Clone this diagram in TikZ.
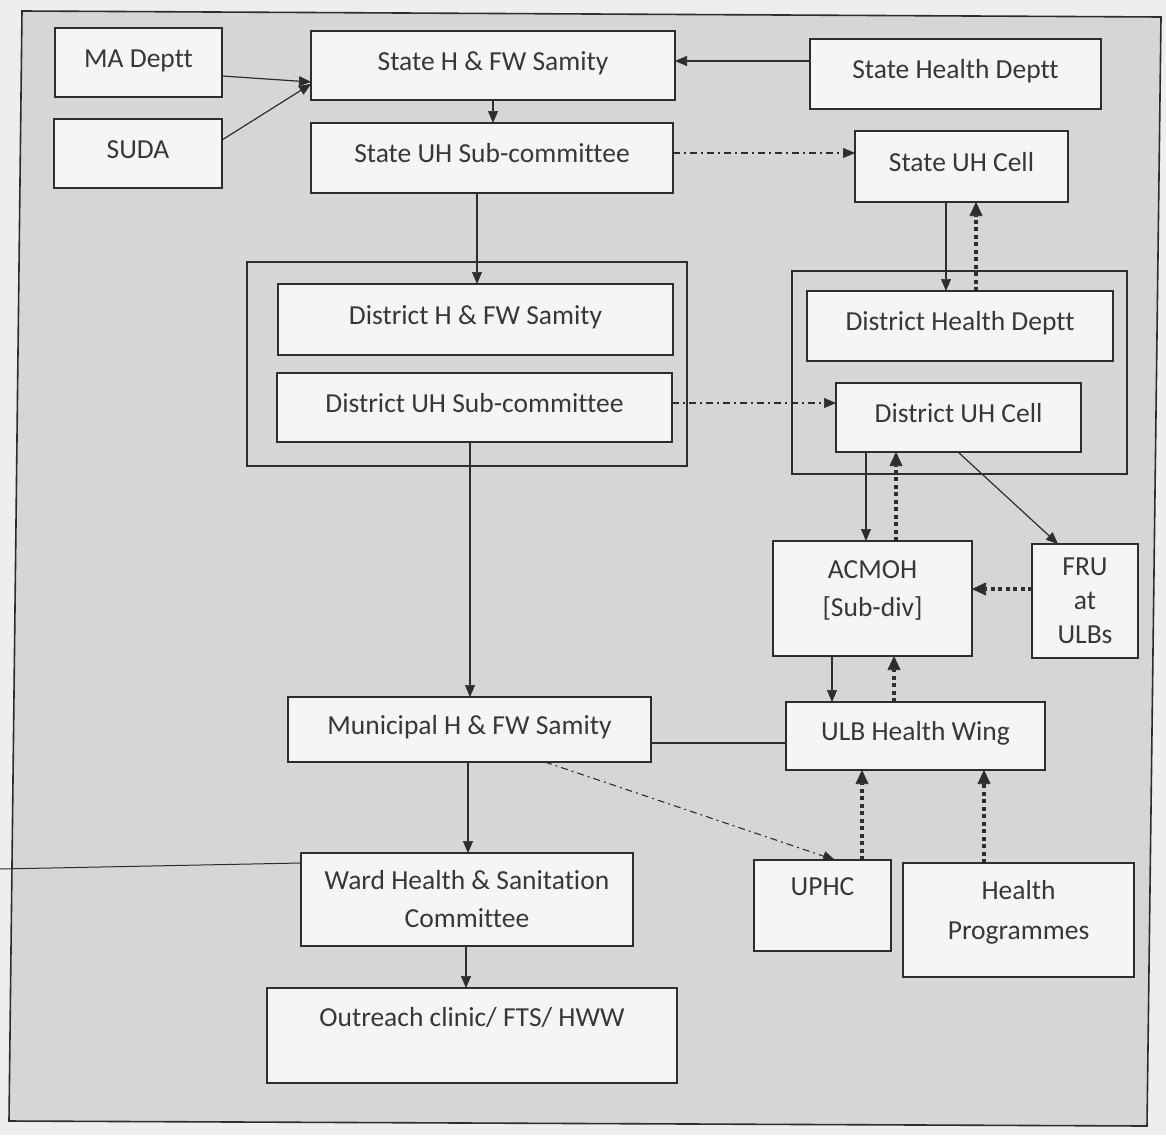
\documentclass[tikz,border=0pt]{standalone}
\usepackage{fontspec}
\setmainfont{Carlito}[Ligatures={NoCommon}]
\usetikzlibrary{arrows.meta,calc}
\definecolor{pagebg}{RGB}{238,238,238}
\definecolor{framebg}{RGB}{214,214,214}
\definecolor{boxbg}{RGB}{245,245,245}
\definecolor{ln}{RGB}{45,45,45}
\definecolor{tx}{RGB}{55,55,55}
\tikzset{
  bx/.style={draw=ln, fill=boxbg, line width=1.4pt, inner sep=0pt, outer sep=0pt, text=tx, align=center, font=\fontsize{27.5pt}{38pt}\selectfont},
  one/.style={text height=18pt, text depth=8.5pt},
  grp/.style={draw=ln, line width=1.4pt, inner sep=0pt, outer sep=0pt},
  ar/.style={draw=ln, line width=1.2pt, -{Triangle[length=12pt,width=10pt,line width=0.6pt]}},
  dd/.style={draw=ln, line width=1.1pt, dash pattern=on 7pt off 4pt on 2pt off 4pt, -{Triangle[length=12pt,width=10pt,line width=0.6pt]}},
  dt/.style={draw=ln, line width=4.5pt, dash pattern=on 4pt off 3.5pt, -{Triangle[length=14pt,width=13pt,line width=0.6pt]}},
  pl/.style={draw=ln, line width=1.2pt},
}
\begin{document}
\begin{tikzpicture}[x=1pt,y=-1pt]
\fill[pagebg] (0,0) rectangle (1166,1135);
\useasboundingbox (0,0) rectangle (1166,1135);
\filldraw[fill=framebg, draw=ln, line width=1.6pt] (22,11) -- (1161,17) -- (1147,1126) -- (9,1121) -- cycle;

% group frames
\node[grp, minimum width=440pt, minimum height=204pt] (grpL) at (467,364) {};
\node[grp, minimum width=335pt, minimum height=203pt] (grpR) at (959.5,372.5) {};

% boxes
\node[bx, one, minimum width=167pt, minimum height=69pt] (ma) at (138.5,62.5) {MA Deptt};
\node[bx, one, minimum width=168pt, minimum height=69pt] (suda) at (138,153.5) {SUDA};
\node[bx, one, minimum width=364pt, minimum height=69pt] (shfw) at (493,65.5) {State H \& FW Samity};
\node[bx, one, minimum width=291pt, minimum height=70pt] (shd) at (955.5,74) {State Health Deptt};
\node[bx, one, minimum width=362pt, minimum height=70pt] (suhs) at (492,158) {State UH Sub-committee};
\node[bx, one, minimum width=213pt, minimum height=71pt] (suhc) at (961.5,166.5) {State UH Cell};
\node[bx, one, minimum width=395pt, minimum height=71pt] (dhfw) at (475.5,319.5) {District H \& FW Samity};
\node[bx, one, minimum width=395pt, minimum height=69pt] (duhs) at (474.5,407.5) {District UH Sub-committee};
\node[bx, one, minimum width=306pt, minimum height=70pt] (dhd) at (960,326) {District Health Deptt};
\node[bx, one, minimum width=245pt, minimum height=69pt] (duhc) at (958.5,417.5) {District UH Cell};
\node[bx, minimum width=199pt, minimum height=115pt] (acmoh) at (872.5,598.5) {ACMOH\\{[}Sub-div{]}\\[-19pt]\mbox{}};
\node[bx, minimum width=106pt, minimum height=114pt, font=\fontsize{27.5pt}{34pt}\selectfont] (fru) at (1085,601) {FRU\\at\\ULBs};
\node[bx, one, minimum width=363pt, minimum height=65pt] (mun) at (469.5,729.5) {Municipal H \& FW Samity};
\node[bx, one, minimum width=259pt, minimum height=68pt] (ulb) at (915.5,736) {ULB Health Wing};
\node[bx, minimum width=332pt, minimum height=93pt] (ward) at (467,899.5) {Ward Health \& Sanitation\\Committee};
\node[bx, minimum width=137pt, minimum height=91pt] (uphc) at (822.5,905.5) {UPHC\\\mbox{}};
\node[bx, minimum width=231pt, minimum height=114pt, font=\fontsize{27.5pt}{40pt}\selectfont] (hp) at (1018.5,920) {Health\\Programmes\\[-20pt]\mbox{}};
\node[bx, minimum width=410pt, minimum height=95pt] (out) at (472,1035.5) {Outreach clinic/ FTS/ HWW\\\mbox{}};

% connectors
\draw[ar] (ma.east |- 0,76) -- (shfw.west |- 0,82);
\draw[ar] (suda.east |- 0,140) -- (shfw.west |- 0,84);
\draw[ar] (shd.west |- 0,61) -- (shfw.east |- 0,61);
\draw[ar] (493,0 |- shfw.south) -- (493,0 |- suhs.north);
\draw[dd] (suhs.east |- 0,153) -- (suhc.west |- 0,153);
\draw[ar] (477,0 |- suhs.south) -- (477,0 |- dhfw.north);
\draw[ar] (946,0 |- suhc.south) -- (946,0 |- dhd.north);
\draw[dt] (976,0 |- dhd.north) -- (976,0 |- suhc.south);
\draw[dd] (duhs.east |- 0,403) -- (duhc.west |- 0,403);
\draw[ar] (470,0 |- duhs.south) -- (470,0 |- mun.north);
\draw[ar] (866,0 |- duhc.south) -- (866,0 |- acmoh.north);
\draw[dt] (896,0 |- acmoh.north) -- (896,0 |- duhc.south);
\draw[ar] (958,0 |- duhc.south) -- (1058,0 |- fru.north);
\draw[dt] (fru.west |- 0,589) -- (acmoh.east |- 0,589);
\draw[ar] (832,0 |- acmoh.south) -- (832,0 |- ulb.north);
\draw[dt] (894,0 |- ulb.north) -- (894,0 |- acmoh.south);
\draw[pl] (mun.east |- 0,743) -- (ulb.west |- 0,743);
\draw[ar] (468,0 |- mun.south) -- (468,0 |- ward.north);
\draw[dd] (545,0 |- mun.south) -- (835,0 |- uphc.north);
\draw[dt] (862,0 |- uphc.north) -- (862,0 |- ulb.south);
\draw[dt] (984,0 |- hp.north) -- (984,0 |- ulb.south);
\draw[ar] (466,0 |- ward.south) -- (466,0 |- out.north);
\coordinate (strayL) at (0,869);
\draw[draw=ln, line width=1pt] (strayL) -- (ward.west |- 0,863);
\end{tikzpicture}
\end{document}
